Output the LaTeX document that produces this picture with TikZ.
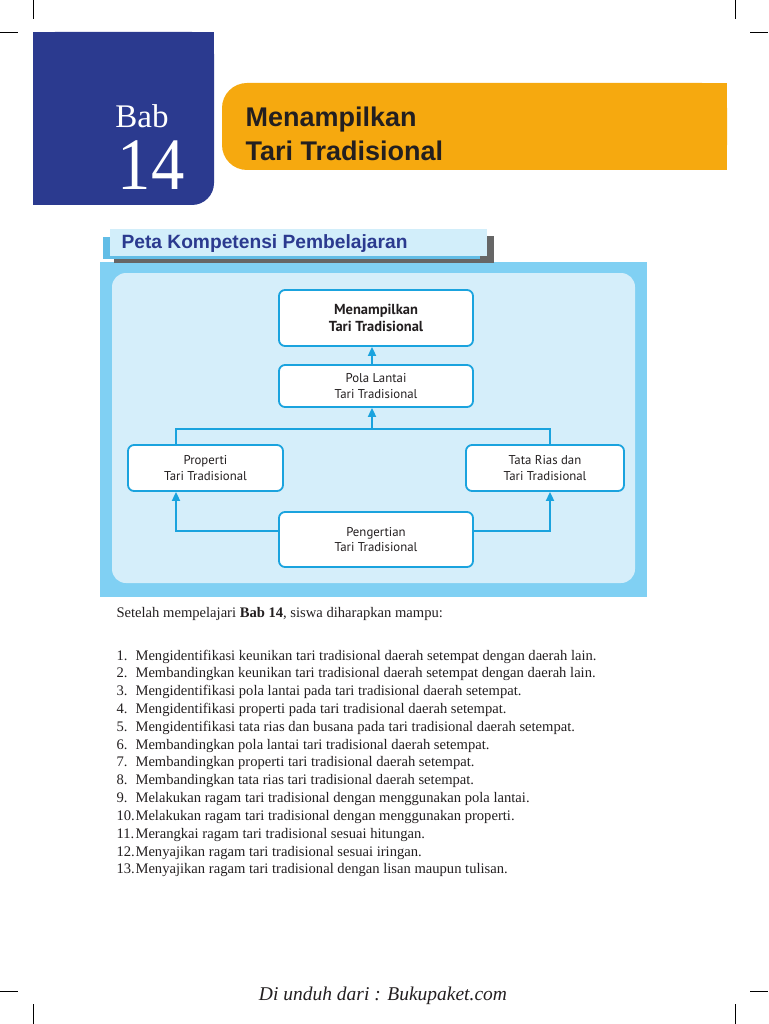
\documentclass[tikz,border=0pt]{standalone}
\usepackage{fontspec}
\setmainfont{Liberation Serif}
\setsansfont{Liberation Sans}
\newfontfamily\boxfont{PT Sans}
\usetikzlibrary{arrows.meta}
\definecolor{cBab}{HTML}{2B3A8F}
\definecolor{cJudul}{HTML}{F6A90F}
\definecolor{cLangit}{HTML}{80D0F3}
\definecolor{cPucat}{HTML}{D5EEFA}
\definecolor{cGaris}{HTML}{1AA3DE}
\definecolor{cPita}{HTML}{D2EEFA}
\definecolor{cStrip}{HTML}{62BDE6}
\definecolor{cTinta}{HTML}{231F20}

\begin{document}
\begin{tikzpicture}[x=1pt, y=-1pt, text=cTinta,
  kotak/.style={draw=cGaris, fill=white, rounded corners=6pt, line width=1.8pt, align=center, inner sep=0pt,
    minimum width=#1, font=\boxfont\fontsize{12.8}{15.5}\selectfont},
  garis/.style={draw=cGaris, line width=1.8pt},
  panah/.style={garis, -{Triangle[length=9pt, width=8pt]}},
  butir/.style={anchor=base west, font=\fontsize{14.6}{17}\selectfont},
  tanda/.style={black, line width=0.8pt}]
  \useasboundingbox (0,0) rectangle (768,1024);
  \foreach \x/\y/\u/\v in {33/0/33/19, 0/32/18/32, 735/0/735/19, 750/32/768/32,
                           0/991/18/991, 33/1004/33/1024, 750/991/768/991, 735/1004/735/1024}
    \draw[tanda] (\x,\y) -- (\u,\v);
  \fill[cBab, rounded corners=22pt] (33,32) rectangle (214,205);
  \fill[cBab] (33,32) rectangle (160,205);
  \fill[cBab] (33,32) rectangle (214,150);
  \node[anchor=base, text=white, font=\rmfamily\fontsize{33}{36}\selectfont] (bab) at (142,128) {Bab};
  \node[anchor=base, text=white, font=\rmfamily\fontsize{74}{80}\selectfont] (nomor) at (151,190) {\scalebox{0.9}[1]{14}};
  \fill[cJudul, rounded corners=25pt] (222,83) rectangle (727,170);
  \fill[cJudul] (300,83) rectangle (727,170);
  \node[anchor=base west, font=\sffamily\bfseries\fontsize{27}{32}\selectfont] (judulA) at (242,127) {Menampilkan};
  \node[anchor=base west, font=\sffamily\bfseries\fontsize{27}{32}\selectfont] (judulB) at (242,161) {Tari Tradisional};
  \fill[cLangit] (100,262) rectangle (647,597);
  \fill[cPucat, rounded corners=14pt] (112,273) rectangle (635,583);
  \fill[black!60] (114,236) rectangle (494,263);
  \fill[cStrip] (103,237) rectangle (480,259);
  \fill[cPita] (110,229) rectangle (487,256);
  \node[anchor=base west, text=cBab, font=\sffamily\bfseries\fontsize{19.2}{22}\selectfont] (peta) at (118,248) {Peta Kompetensi Pembelajaran};
  \node[kotak=194pt, minimum height=56pt, font=\boxfont\bfseries\fontsize{14.5}{17}\selectfont] (tampil) at (376,318) {Menampilkan\\Tari Tradisional};
  \node[kotak=194pt, minimum height=42pt] (pola) at (376,386) {Pola Lantai\\Tari Tradisional};
  \node[kotak=155pt, minimum height=46pt] (properti) at (205.5,468) {Properti\\Tari Tradisional};
  \node[kotak=158pt, minimum height=46pt] (tatarias) at (545,468) {Tata Rias dan\\Tari Tradisional};
  \node[kotak=194pt, minimum height=55pt] (pengertian) at (376,539.5) {Pengertian\\Tari Tradisional};
  \coordinate (kiri) at (176,429);
  \coordinate (kanan) at (550,429);
  \coordinate (tengah) at (372,429);
  \coordinate (bawah) at (376,531);
  \draw[garis] (kiri |- properti.north) -- (kiri) -- (kanan) -- (kanan |- tatarias.north);
  \draw[panah] (tengah) -- (tengah |- pola.south);
  \draw[panah] (tengah |- pola.north) -- (tengah |- tampil.south);
  \draw[panah] (pengertian.west |- bawah) -| (kiri |- properti.south);
  \draw[panah] (pengertian.east |- bawah) -| (kanan |- tatarias.south);
  \node[butir] (pengantar) at (113,617) {Setelah mempelajari \textbf{Bab 14}, siswa diharapkan mampu:};
  \foreach \i/\isi in {
    1/{Mengidentifikasi keunikan tari tradisional daerah setempat dengan daerah lain.},
    2/{Membandingkan keunikan tari tradisional daerah setempat dengan daerah lain.},
    3/{Mengidentifikasi pola lantai pada tari tradisional daerah setempat.},
    4/{Mengidentifikasi properti pada tari tradisional daerah setempat.},
    5/{Mengidentifikasi tata rias dan busana pada tari tradisional daerah setempat.},
    6/{Membandingkan pola lantai tari tradisional daerah setempat.},
    7/{Membandingkan properti tari tradisional daerah setempat.},
    8/{Membandingkan tata rias tari tradisional daerah setempat.},
    9/{Melakukan ragam tari tradisional dengan menggunakan pola lantai.},
    10/{Melakukan ragam tari tradisional dengan menggunakan properti.},
    11/{Merangkai ragam tari tradisional sesuai hitungan.},
    12/{Menyajikan ragam tari tradisional sesuai iringan.},
    13/{Menyajikan ragam tari tradisional dengan lisan maupun tulisan.}}{
    \node[butir] (no\i) at (113,{660+(\i-1)*17.83}) {\i.};
    \node[butir] (isi\i) at (132,{660+(\i-1)*17.83}) {\isi};}
  \node[anchor=base, font=\itshape\fontsize{19.5}{23}\selectfont] (sumber) at (383,1000) {Di unduh dari : Bukupaket.com};
\end{tikzpicture}
\end{document}
